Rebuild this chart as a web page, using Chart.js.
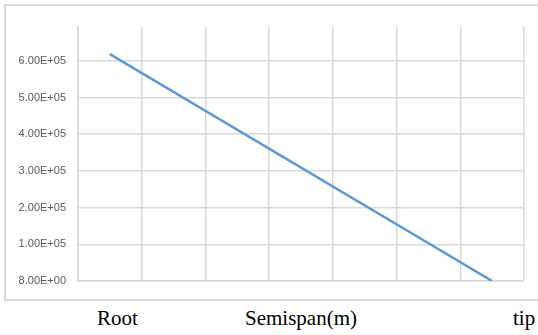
<!DOCTYPE html>
<html>
<head>
<meta charset="utf-8">
<script src="https://cdn.jsdelivr.net/npm/chart.js@4.4.1/dist/chart.umd.min.js"></script>
<style>
    html, body { margin: 0; padding: 0; background: #fff; }
    body { width: 538px; height: 335px; position: relative; overflow: hidden; }
    .frame {
        position: absolute; left: 4px; top: 4px; width: 560px; height: 297px;
        border: 2px solid #d9d9d9; box-sizing: border-box;
    }
    #wrap { position: absolute; left: 0; top: 0; width: 538px; height: 302px; }
    .lbl {
        position: absolute; top: 306px; font-family: 'Liberation Serif', 'Times New Roman', serif;
        font-size: 21px; color: #000; white-space: nowrap;
    }
</style>
</head>
<body>
<div class="frame"></div>
<div id="wrap"><canvas id="chart"></canvas></div>
<div class="lbl" style="left:97px">Root</div>
<div class="lbl" style="left:245px">Semispan(m)</div>
<div class="lbl" style="left:513px">tip</div>
<script>
// span position (grid units) and value
const spanPos = [0.5, 6.5];
const values = [618000, 0];
const yTickLabels = ['8.00E+00', '1.00E+05', '2.00E+05', '3.00E+05', '4.00E+05', '5.00E+05', '6.00E+05'];

const gridColor = '#d9d9d9';

new Chart(document.getElementById('chart'), {
    type: 'line',
    data: {
        datasets: [{
            data: spanPos.map((x, i) => ({ x: x, y: values[i] })),
            borderColor: '#5b9bd5',
            borderWidth: 2.5,
            pointRadius: 0,
            fill: false,
            tension: 0
        }]
    },
    options: {
        responsive: true,
        maintainAspectRatio: false,
        animation: false,
        layout: { padding: { left: 0, top: 27, right: 14, bottom: 21 } },
        plugins: { legend: { display: false }, tooltip: { enabled: false } },
        scales: {
            x: {
                type: 'linear',
                min: 0,
                max: 7,
                ticks: { display: false, stepSize: 1 },
                grid: { color: gridColor, lineWidth: 1.5, drawTicks: false },
                border: { color: gridColor, width: 1.5 },
                afterFit: (s) => { s.height = 0; }
            },
            y: {
                min: 0,
                max: 692000,
                afterBuildTicks: (s) => {
                    s.ticks = yTickLabels.map((t, i) => ({ value: i * 100000 }));
                },
                ticks: {
                    padding: 12,
                    color: '#595959',
                    font: { family: 'Liberation Sans', size: 11 },
                    callback: (v, i) => yTickLabels[i]
                },
                grid: { color: gridColor, lineWidth: 1.5, drawTicks: false },
                border: { color: gridColor, width: 1.5 },
                afterFit: (s) => { s.width = 78; }
            }
        }
    }
});
</script>
</body>
</html>
